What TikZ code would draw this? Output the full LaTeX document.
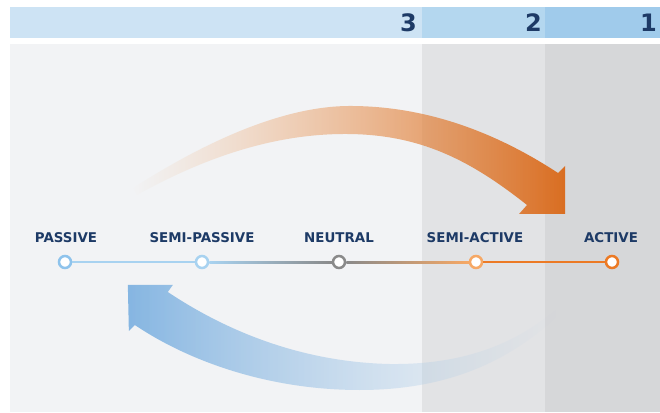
\documentclass[tikz,border=0pt]{standalone}
\usepackage{fontspec}
\setmainfont{DejaVu Sans}
\usetikzlibrary{fadings}
\definecolor{navy}{HTML}{1D3A66}
\definecolor{bandA}{HTML}{CDE3F4}
\definecolor{bandB}{HTML}{B4D7EF}
\definecolor{bandC}{HTML}{A0CBEB}
\definecolor{panelA}{HTML}{F2F3F5}
\definecolor{panelB}{HTML}{E2E3E5}
\definecolor{panelC}{HTML}{D6D7D9}
\definecolor{bluedot}{HTML}{8EC3EC}
\definecolor{bluedotB}{HTML}{A8D2F0}
\definecolor{greydot}{HTML}{8A8A8A}
\definecolor{orangedotB}{HTML}{F6A865}
\definecolor{orangedot}{HTML}{EC7A25}
\definecolor{orangeL}{HTML}{F2A464}
\definecolor{orangeD}{HTML}{DA6E22}
\definecolor{blueL}{HTML}{86B6E2}
\definecolor{blueR}{HTML}{B8D3EB}
\tikzfading[name=orangefade, left color=transparent!100, middle color=transparent!20, right color=transparent!0]
\tikzfading[name=bluefade, left color=transparent!0, middle color=transparent!30, right color=transparent!100]
\begin{document}
\begin{tikzpicture}[x=1pt,y=-1pt,
  lbl/.style={font={\bfseries\fontsize{13.4}{15}\selectfont}, text=navy, inner sep=0pt},
  num/.style={font={\bfseries\fontsize{24}{26}\selectfont}, text=navy, inner sep=0pt, anchor=east},
  dot/.style={circle, draw, fill=white, line width=2.5pt, minimum size=12pt, inner sep=0pt},
  link/.style={line width=2pt}]
\useasboundingbox (0,0) rectangle (660,412);
\fill[white] (0,0) rectangle (660,412);
% top band
\fill[bandA] (10,7) rectangle (422,38);
\fill[bandB] (422,7) rectangle (545,38);
\fill[bandC] (545,7) rectangle (660,38);
\node[num] (n3) at (417,23) {3};
\node[num] (n2) at (542,23) {2};
\node[num] (n1) at (657,23) {1};
% panel
\fill[panelA] (10,44) rectangle (422,412);
\fill[panelB] (422,44) rectangle (545,412);
\fill[panelC] (545,44) rectangle (660,412);
% orange arrow
\shade[left color=orangeL, right color=orangeD, path fading=orangefade]
  (133,188) .. controls (200,145) and (280,106) .. (350,106)
  .. controls (430,106) and (500,135) .. (558,173)
  -- (565,166) -- (565,214) -- (519,214) -- (527,205)
  .. controls (470,160) and (420,134) .. (345,134)
  .. controls (270,134) and (200,160) .. (137,195)
  -- cycle;
% blue arrow
\shade[left color=blueL, right color=blueR, path fading=bluefade]
  (173,285) -- (128,285) -- (129,331) -- (135,325)
  .. controls (190,362) and (270,390) .. (360,390)
  .. controls (450,390) and (510,360) .. (556,318)
  -- (556,310)
  .. controls (520,340) and (470,365) .. (390,364)
  .. controls (300,362) and (225,330) .. (168,292)
  -- cycle;
% labels
\node[lbl] (l1) at (66,238) {PASSIVE};
\node[lbl] (l2) at (202,238) {SEMI-PASSIVE};
\node[lbl] (l3) at (339,238) {NEUTRAL};
\node[lbl] (l4) at (475,238) {SEMI-ACTIVE};
\node[lbl] (l5) at (611,238) {ACTIVE};
% dots
\node[dot, draw=bluedot] (c1) at (65,262) {};
\node[dot, draw=bluedotB] (c2) at (202,262) {};
\node[dot, draw=greydot] (c3) at (339,262) {};
\node[dot, draw=orangedotB] (c4) at (476,262) {};
\node[dot, draw=orangedot] (c5) at (612,262) {};
% links
\draw[link, draw=bluedotB] (c1) -- (c2);
\shade[left color=bluedotB, right color=greydot] ([yshift=-1pt]c2.east) rectangle ([yshift=1pt]c3.west);
\shade[left color=greydot, right color=orangedotB] ([yshift=-1pt]c3.east) rectangle ([yshift=1pt]c4.west);
\draw[link, draw=orangedot] (c4) -- (c5);
\end{tikzpicture}
\end{document}
